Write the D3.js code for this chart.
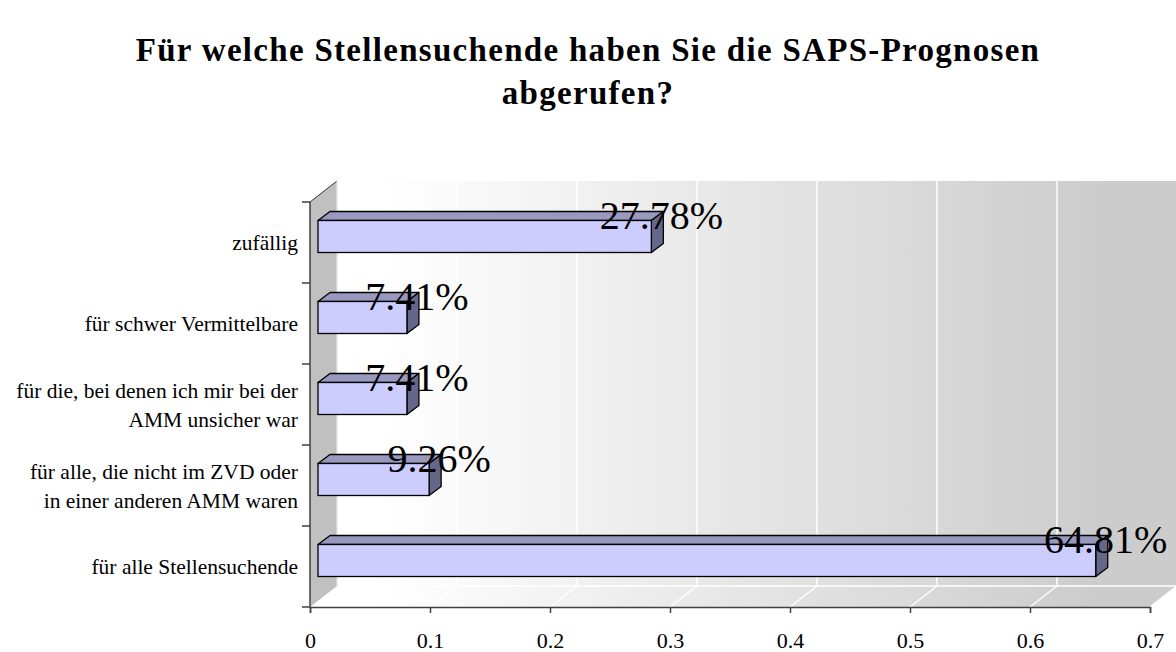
<!DOCTYPE html>
<html>
<head>
<meta charset="utf-8">
<script src="https://cdn.jsdelivr.net/npm/d3@7"></script>
<style>
  body { margin: 0; background: #fff; }
  svg text { font-family: "Liberation Serif", "DejaVu Serif", serif; }
</style>
</head>
<body>
<div id="chart"></div>
<script>
// categories, top to bottom, with their line breaks
var categoryLines = [
  ["zufällig"],
  ["für schwer Vermittelbare"],
  ["für die, bei denen ich mir bei der", "AMM unsicher war"],
  ["für alle, die nicht im ZVD oder", "in einer anderen AMM waren"],
  ["für alle Stellensuchende"]
];
var categories = categoryLines.map(d => d.join(" "));
var values = [0.2778, 0.0741, 0.0741, 0.0926, 0.6481];
var xTicks = [0, 0.1, 0.2, 0.3, 0.4, 0.5, 0.6, 0.7];
var titleLines = ["Für welche Stellensuchende haben Sie die SAPS-Prognosen", "abgerufen?"];

var width = 1176, height = 652;
var depthX = 27, depthY = -21;   // 3d offset of the back wall
var barOffX = 8, barOffY = -6;   // bars sit a bit inside the depth
var barDX = 12, barDY = -9;      // depth of each bar
var barH = 32;

var svg = d3.select('#chart').append('svg')
  .attr('width', width).attr('height', height);

var x = d3.scaleLinear().domain([0, 0.7]).range([310, 1150]);
var y = d3.scaleBand().domain(categories).range([202, 607]).padding(0);

var defs = svg.append('defs');
var wallGrad = defs.append('linearGradient').attr('id', 'wall')
  .attr('gradientUnits', 'userSpaceOnUse')
  .attr('x1', 380).attr('x2', 1100).attr('y1', 0).attr('y2', 0);
wallGrad.append('stop').attr('offset', '0%').attr('stop-color', '#ffffff');
wallGrad.append('stop').attr('offset', '100%').attr('stop-color', '#cccccc');

var x0 = x(0), x1 = x(0.7), yTop = y.range()[0], yBot = y.range()[1];

// back wall
svg.append('rect')
  .attr('x', x0 + depthX).attr('y', yTop + depthY)
  .attr('width', x1 - x0).attr('height', yBot - yTop)
  .attr('fill', 'url(#wall)');

// floor
svg.append('path')
  .attr('d', `M${x0},${yBot}L${x1},${yBot}L${x1 + depthX},${yBot + depthY}L${x0 + depthX},${yBot + depthY}Z`)
  .attr('fill', 'url(#wall)');

// grid lines on the back wall and floor
var grid = svg.append('g').attr('stroke', '#ffffff').attr('stroke-width', 1.5).attr('fill', 'none');
grid.selectAll('.gw').data(xTicks.slice(1)).enter().append('line')
  .attr('x1', d => x(d) + depthX).attr('x2', d => x(d) + depthX)
  .attr('y1', yTop + depthY).attr('y2', yBot + depthY);
grid.selectAll('.gf').data(xTicks.slice(1)).enter().append('line')
  .attr('x1', d => x(d)).attr('x2', d => x(d) + depthX)
  .attr('y1', yBot).attr('y2', yBot + depthY);
grid.append('line')
  .attr('x1', x0 + depthX).attr('x2', x1 + depthX)
  .attr('y1', yBot + depthY).attr('y2', yBot + depthY);

// left wall
svg.append('path')
  .attr('d', `M${x0},${yTop}L${x0 + depthX},${yTop + depthY}L${x0 + depthX},${yBot + depthY}L${x0},${yBot}Z`)
  .attr('fill', '#c0c0c0');
svg.append('line')
  .attr('x1', x0).attr('y1', yTop).attr('x2', x0 + depthX).attr('y2', yTop + depthY)
  .attr('stroke', '#333').attr('stroke-width', 1);
svg.append('line')
  .attr('x1', x0 + depthX).attr('y1', yTop + depthY).attr('x2', x0 + depthX).attr('y2', yBot + depthY)
  .attr('stroke', '#e8e8e8').attr('stroke-width', 1);

// bars
var bars = svg.append('g').selectAll('g').data(categories).enter().append('g');
bars.each(function(c, i) {
  var g = d3.select(this);
  var left = x(0) + barOffX, right = x(values[i]) + barOffX;
  var top = y(c) + y.bandwidth() / 2 + barOffY - barH / 2, bot = top + barH;
  g.append('path')
    .attr('d', `M${left},${top}L${left + barDX},${top + barDY}L${right + barDX},${top + barDY}L${right},${top}Z`)
    .attr('fill', '#9999c0').attr('stroke', '#000').attr('stroke-width', 1.3).attr('stroke-linejoin', 'round');
  g.append('path')
    .attr('d', `M${right},${top}L${right + barDX},${top + barDY}L${right + barDX},${bot + barDY}L${right},${bot}Z`)
    .attr('fill', '#666688').attr('stroke', '#000').attr('stroke-width', 1.3).attr('stroke-linejoin', 'round');
  g.append('rect')
    .attr('x', left).attr('y', top).attr('width', right - left).attr('height', barH)
    .attr('fill', '#ccccff').attr('stroke', '#000').attr('stroke-width', 1.3);
});

// axes
var xAxis = svg.append('g')
  .attr('transform', `translate(0,${yBot})`)
  .call(d3.axisBottom(x).tickValues(xTicks).tickSize(6).tickPadding(19).tickFormat(d3.format('~g')));
xAxis.attr('font-family', null).attr('font-size', null);
xAxis.select('.domain').attr('stroke', '#404040').attr('stroke-width', 1.5);
xAxis.selectAll('.tick line').attr('stroke', '#404040').attr('stroke-width', 1.5);
xAxis.selectAll('.tick text')
  .style('font-size', '22px')
  .style('font-family', '"Liberation Serif", serif')
  .attr('fill', '#000');

var yAxis = svg.append('g');
yAxis.append('line')
  .attr('x1', x0).attr('x2', x0).attr('y1', yTop).attr('y2', yBot)
  .attr('stroke', '#404040').attr('stroke-width', 1.5);
var bounds = categories.map(c => y(c)).concat([yBot]);
yAxis.selectAll('.yt').data(bounds).enter().append('line')
  .attr('x1', x0 - 8).attr('x2', x0).attr('y1', d => d).attr('y2', d => d)
  .attr('stroke', '#404040').attr('stroke-width', 1.5);

// category labels
var lineGap = 29;
var labels = svg.append('g').selectAll('text').data(categoryLines).enter().append('text')
  .attr('text-anchor', 'end')
  .attr('font-size', 21.5)
  .attr('fill', '#000');
labels.each(function(lines, i) {
  var cy = y(categories[i]) + y.bandwidth() / 2;
  var t = d3.select(this);
  lines.forEach(function(l, j) {
    t.append('tspan')
      .attr('x', 298)
      .attr('y', cy - (lines.length - 1) * lineGap / 2 + j * lineGap)
      .attr('dy', '0.35em')
      .text(l);
  });
});

// value labels
svg.append('g').selectAll('text').data(values).enter().append('text')
  .attr('x', d => x(d) + barOffX + 10)
  .attr('y', (d, i) => y(categories[i]) + y.bandwidth() / 2 + barOffY - barH / 2 + 8)
  .attr('text-anchor', 'middle')
  .attr('font-size', 40)
  .attr('fill', '#000')
  .text(d => d3.format('.2%')(d));

// title
svg.append('g').selectAll('text').data(titleLines).enter().append('text')
  .attr('x', 588)
  .attr('y', (d, i) => 61 + i * 43)
  .attr('text-anchor', 'middle')
  .attr('font-size', 33)
  .attr('letter-spacing', 1.3)
  .attr('font-weight', 'bold')
  .attr('fill', '#000')
  .text(d => d);
</script>
</body>
</html>
